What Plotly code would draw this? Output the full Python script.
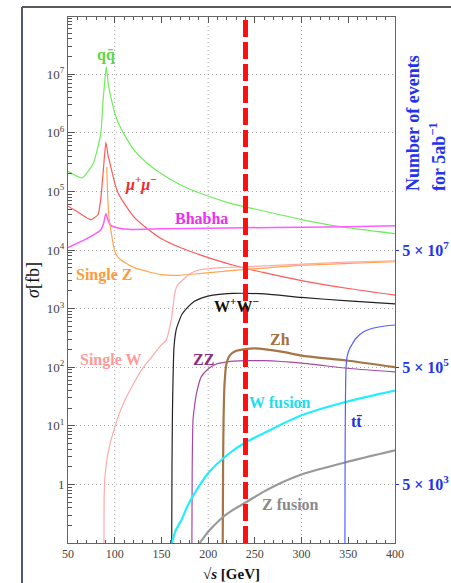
import plotly.graph_objects as go

# ---------------- data (sqrt(s) in GeV, sigma in fb) ----------------
qq_x = [50, 65, 77, 85, 87.5, 90, 91, 93, 95, 100, 104, 110, 121, 135, 150, 170, 193, 223, 250, 300, 341, 400]
qq_y = [2.2e5, 1.7e5, 3.0e5, 9.5e5, 3.5e6, 1.0e7, 1.35e7, 7.0e6, 4.7e6, 2.2e6, 1.45e6, 9.5e5, 5.0e5,
        3.0e5, 2.0e5, 1.3e5, 9.1e4, 6.3e4, 5.0e4, 3.3e4, 2.5e4, 1.9e4]

mumu_x = [50, 60, 74, 82, 85, 88, 90.5, 93, 95, 100, 104, 110, 121, 135, 150, 170, 193, 227, 260, 300, 350, 400]
mumu_y = [5.6e4, 4.5e4, 3.3e4, 4.0e4, 7.2e4, 2.5e5, 6.9e5, 4.0e5, 3.0e5, 1.4e5, 9.1e4, 6.3e4, 3.6e4,
          2.3e4, 1.55e4, 1.1e4, 8.1e3, 5.5e3, 4.1e3, 3.0e3, 2.2e3, 1.7e3]

bhabha_x = [50, 68, 85, 88, 90.5, 93, 96, 105, 115, 150, 200, 240, 300, 350, 400]
bhabha_y = [1.1e4, 1.5e4, 2.2e4, 2.8e4, 4.2e4, 3.2e4, 2.6e4, 2.35e4, 2.25e4, 2.3e4, 2.35e4, 2.4e4, 2.45e4, 2.5e4, 2.6e4]

singleZ_x = [91.5, 92.5, 94, 96.5, 100, 105, 121, 135, 150, 168, 193, 227, 260, 300, 350, 400]
singleZ_y = [2.6e5, 8.0e4, 3.5e4, 1.9e4, 9.5e3, 7.1e3, 5.0e3, 4.3e3, 3.8e3, 3.7e3, 4.0e3, 4.5e3, 4.9e3, 5.5e3, 5.9e3, 6.3e3]

singleW_x = [88.5, 88.7, 89.5, 92.8, 100, 110.7, 128.5, 142.8, 150, 155.2, 158, 160.6, 162.5, 164.2, 167,
             173, 180, 191, 215, 245, 300, 350, 400]
singleW_y = [0.1, 0.6, 1.3, 3.4, 9.5, 27, 89, 174, 240, 290, 420, 650, 1100, 1800, 2500,
             3100, 3900, 4600, 5000, 5200, 5750, 6200, 6500]

ww_x = [161.0, 161.3, 161.8, 162.4, 163.5, 166, 168, 172, 178.5, 185, 192.7, 205, 227, 260, 300, 350, 400]
ww_y = [0.1, 2.0, 16, 60, 224, 450, 560, 800, 1070, 1320, 1510, 1700, 1820, 1780, 1550, 1350, 1200]

zz_x = [182.6, 182.9, 183.8, 185.5, 187.4, 192.7, 200, 207, 220, 240, 260, 300, 352, 400]
zz_y = [0.1, 1.6, 12.6, 22, 35, 69, 93, 110, 123, 129, 129, 117, 95, 83]

zh_x = [215.6, 216, 216.5, 217.5, 219.5, 223, 230, 240, 250, 280, 300, 350, 400]
zh_y = [0.1, 2, 12.6, 50, 112, 158, 190, 204, 209, 182, 158, 129, 100]

wfus_x = [161.3, 165, 171.3, 178, 185.6, 200, 223.4, 240, 259, 300, 348, 400]
wfus_y = [0.1, 0.16, 0.245, 0.43, 0.71, 1.55, 3.47, 5.2, 7.4, 15.1, 25.7, 39.8]

zfus_x = [191, 197, 203.4, 215, 227, 241, 260, 280, 300, 348, 400]
zfus_y = [0.1, 0.135, 0.178, 0.27, 0.37, 0.50, 0.76, 1.10, 1.48, 2.40, 3.8]

tt_x = [346.4, 346.6, 346.9, 347.6, 349, 351.5, 353.7, 358, 366, 375, 384, 400]
tt_y = [0.1, 3.2, 20, 100, 158, 209, 240, 309, 398, 457, 490, 525]

cut_energy = 240  # GeV, vertical dashed line

x_ticks = [50, 100, 150, 200, 250, 300, 350, 400]
y_ticks = [1, 10, 100, 1e3, 1e4, 1e5, 1e6, 1e7]
y_ticktext = ["1", "10<sup>1</sup>", "10<sup>2</sup>", "10<sup>3</sup>", "10<sup>4</sup>",
              "10<sup>5</sup>", "10<sup>6</sup>", "10<sup>7</sup>"]
y2_ticks = [1, 100, 1e4]
y2_ticktext = ["<b>5 × 10<sup>3</sup></b>", "<b>5 × 10<sup>5</sup></b>", "<b>5 × 10<sup>7</sup></b>"]

SERIF = "Liberation Serif, Times New Roman, DejaVu Serif, serif"

# (x, y, colour, width, smooth)
series = [
    (qq_x, qq_y, "#6fee5a", 1.2, 0.5),
    (mumu_x, mumu_y, "#ff5a5a", 1.2, 0.5),
    (bhabha_x, bhabha_y, "#ff5cff", 1.5, 0.4),
    (singleZ_x, singleZ_y, "#ffa550", 1.2, 0.6),
    (singleW_x, singleW_y, "#ffaaaa", 1.2, 0.6),
    (ww_x, ww_y, "#222222", 1.2, 0.6),
    (zz_x, zz_y, "#a548a5", 1.2, 0.6),
    (zh_x, zh_y, "#a57545", 2.2, 0.6),
    (wfus_x, wfus_y, "#22eeff", 2.2, 0.8),
    (zfus_x, zfus_y, "#999999", 2.2, 0.8),
    (tt_x, tt_y, "#5560ff", 1.2, 0.6),
]

fig = go.Figure()
for xs, ys, col, w, sm in series:
    fig.add_trace(go.Scatter(x=xs, y=ys, mode="lines",
                             line=dict(color=col, width=w, shape="spline", smoothing=sm),
                             hoverinfo="skip", showlegend=False))
# invisible trace to activate the right axis
fig.add_trace(go.Scatter(x=[None], y=[None], yaxis="y2", showlegend=False, hoverinfo="skip"))

minor_y = [m * 10 ** k for k in range(-1, 8) for m in range(2, 10)]
GRID_DASH = "1px,3px"

fig.update_layout(
    width=451, height=583,
    margin=dict(l=68, r=56, t=17, b=40),
    paper_bgcolor="white", plot_bgcolor="white",
    showlegend=False,
    xaxis=dict(range=[50, 400], tickvals=x_ticks, ticks="inside", ticklen=6, tickcolor="#555",
               showline=True, linecolor="#666", linewidth=1, mirror="ticks", automargin=False,
               showgrid=False, zeroline=False,
               tickfont=dict(family=SERIF, size=12, color="#444"),
               minor=dict(dtick=10, ticks="inside", ticklen=3, tickcolor="#555")),
    yaxis=dict(type="log", range=[-1, 7.976], tickvals=y_ticks, ticktext=y_ticktext,
               ticks="inside", ticklen=7, tickcolor="#555", automargin=False,
               showline=True, linecolor="#666", linewidth=1, mirror=False,
               showgrid=True, gridcolor="#a8a8a8", griddash=GRID_DASH, gridwidth=1, zeroline=False,
               tickfont=dict(family=SERIF, size=13, color="#444"),
               minor=dict(tickvals=minor_y, ticks="inside", ticklen=4, tickcolor="#555", showgrid=False)),
    yaxis2=dict(type="log", range=[-1, 7.976], overlaying="y", side="right", automargin=False,
                tickvals=y2_ticks, ticktext=y2_ticktext, ticks="outside", ticklen=3, tickcolor="#2233ee",
                showline=True, linecolor="#666", linewidth=1, showgrid=False, zeroline=False,
                tickfont=dict(family=SERIF, size=16, color="#2233ee")),
)

# x grid lines (dotted) at 100, 200, 300
for gx in [100, 200, 300]:
    fig.add_shape(type="line", xref="x", yref="paper", x0=gx, x1=gx, y0=0, y1=1,
                  line=dict(color="#a8a8a8", width=1, dash=GRID_DASH), layer="below")

# red dashed line
fig.add_shape(type="line", xref="x", yref="paper", x0=cut_energy, x1=cut_energy, y0=0, y1=1,
              line=dict(color="#ff1010", width=5, dash="17px,5px"), layer="above")

# outer frame lines (top and left)
def px2paper_x(px):
    return (px - 68) / 327.0

def py2paper_y(py):
    return (543 - py) / 526.0

fig.add_shape(type="line", xref="paper", yref="paper", x0=px2paper_x(22), x1=px2paper_x(451),
              y0=py2paper_y(7), y1=py2paper_y(7), line=dict(color="#222", width=1.5))
fig.add_shape(type="line", xref="paper", yref="paper", x0=px2paper_x(22), x1=px2paper_x(22),
              y0=py2paper_y(7), y1=py2paper_y(583), line=dict(color="#55557a", width=2))

# curve labels: (text, x GeV, log10 sigma, color)
labels = [
    ("<b>qq\u0304</b>", 90.7, 7.33, "#5ad846"),
    ("<b><i>μ</i><sup>+</sup><i>μ</i><sup>−</sup></b>", 128, 5.14, "#ee2a2a"),
    ("<b>Bhabha</b>", 193, 4.53, "#ee30ee"),
    ("<b>Single Z</b>", 89, 3.57, "#ff9a3a"),
    ("<b>Single W</b>", 96, 2.12, "#ff9a9a"),
    ("<b>W<sup>+</sup>W<sup>−</sup></b>", 230, 3.06, "#111111"),
    ("<b>Zh</b>", 276.4, 2.48, "#a5703c"),
    ("<b>ZZ</b>", 194.5, 2.13, "#8a2a8a"),
    ("<b>W fusion</b>", 277, 1.40, "#22ddee"),
    ("<b>tt\u0304</b>", 358.4, 1.08, "#2233dd"),
    ("<b>Z fusion</b>", 287.7, -0.35, "#8a8a8a"),
]
for txt, lx, ly, col in labels:
    fig.add_annotation(x=lx, y=ly, xref="x", yref="y", text=txt, showarrow=False,
                       font=dict(family=SERIF, size=16, color=col), xanchor="center", yanchor="middle")

# axis titles
fig.add_annotation(x=px2paper_x(33), y=py2paper_y(280), xref="paper", yref="paper",
                   text="<i>σ</i>[fb]", textangle=-90, showarrow=False,
                   xanchor="center", yanchor="middle",
                   font=dict(family=SERIF, size=18, color="#111"))
fig.add_annotation(x=px2paper_x(231), y=py2paper_y(574), xref="paper", yref="paper",
                   text="<b>√<i>s</i> [GeV]</b>", showarrow=False,
                   xanchor="center", yanchor="middle",
                   font=dict(family=SERIF, size=15, color="#111"))
fig.add_annotation(x=px2paper_x(413), y=py2paper_y(123), xref="paper", yref="paper",
                   text="<b>Number of events</b>", textangle=-90, showarrow=False,
                   xanchor="center", yanchor="middle",
                   font=dict(family=SERIF, size=18, color="#2233ee"))
fig.add_annotation(x=px2paper_x(437), y=py2paper_y(156), xref="paper", yref="paper",
                   text="<b>for 5ab<sup>−1</sup></b>", textangle=-90, showarrow=False,
                   xanchor="center", yanchor="middle",
                   font=dict(family=SERIF, size=18, color="#2233ee"))

fig.write_html("out.html", config={"displayModeBar": False},
               post_script="document.body.style.margin='0px';document.body.style.overflow='hidden';")
